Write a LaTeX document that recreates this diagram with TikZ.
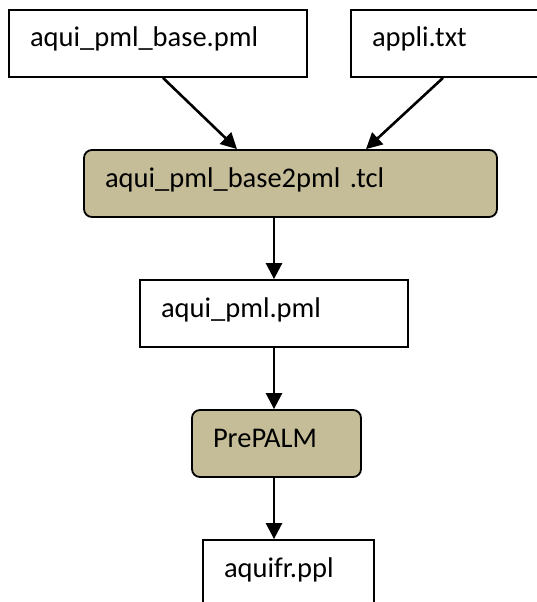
\documentclass[tikz,border=0pt]{standalone}
\usepackage{fontspec}
\setmainfont{Carlito}
\usepackage{xcolor}
\usetikzlibrary{arrows.meta, positioning}
\definecolor{scripttan}{RGB}{196,189,151}

\begin{document}
\begin{tikzpicture}[x=1pt, y=-1pt,
  file/.style={rectangle, draw=black, line width=1.8pt, fill=white,
               align=left, inner xsep=21pt, inner ysep=0pt,
               font=\fontsize{28.5}{32}\selectfont,
               text height=20pt, text depth=13pt,
               minimum height=67pt},
  prog/.style={file, fill=scripttan, rounded corners=8pt},
  arr/.style={-{Triangle[length=16pt, width=16pt]}, line width=2.6pt}
]
\useasboundingbox (0,0) rectangle (537,602);
\clip (0,0) rectangle (537,602);
\node[file, text width=256pt] (base) at (158,43.5)   {aqui\_pml\_base.pml};
\node[file, text width=146pt] (appli) at (445,43.5)  {appli.txt};
\node[prog, text width=371pt] (tcl) at (290.5,183.5) {aqui\_pml\_base2pml .tcl};
\node[file, text width=226pt] (pml) at (274,313.5)   {aqui\_pml.pml};
\node[prog, text width=127pt] (pre) at (276.5,443.5) {PrePALM};
\node[file, text width=129pt] (ppl) at (288.5,573.5) {aquifr.ppl};
\draw[arr] ([xshift=5pt]base.south) -- ([xshift=-53.5pt]tcl.north);
\draw[arr] ([xshift=-2pt]appli.south) -- ([xshift=75.5pt]tcl.north);
\draw[arr] (tcl.south -| pml.north) -- (pml.north);
\draw[arr] (pml.south) -- (pml.south |- pre.north);
\draw[arr] (pre.south -| pml.south) -- (pml.south |- ppl.north);
\end{tikzpicture}
\end{document}
